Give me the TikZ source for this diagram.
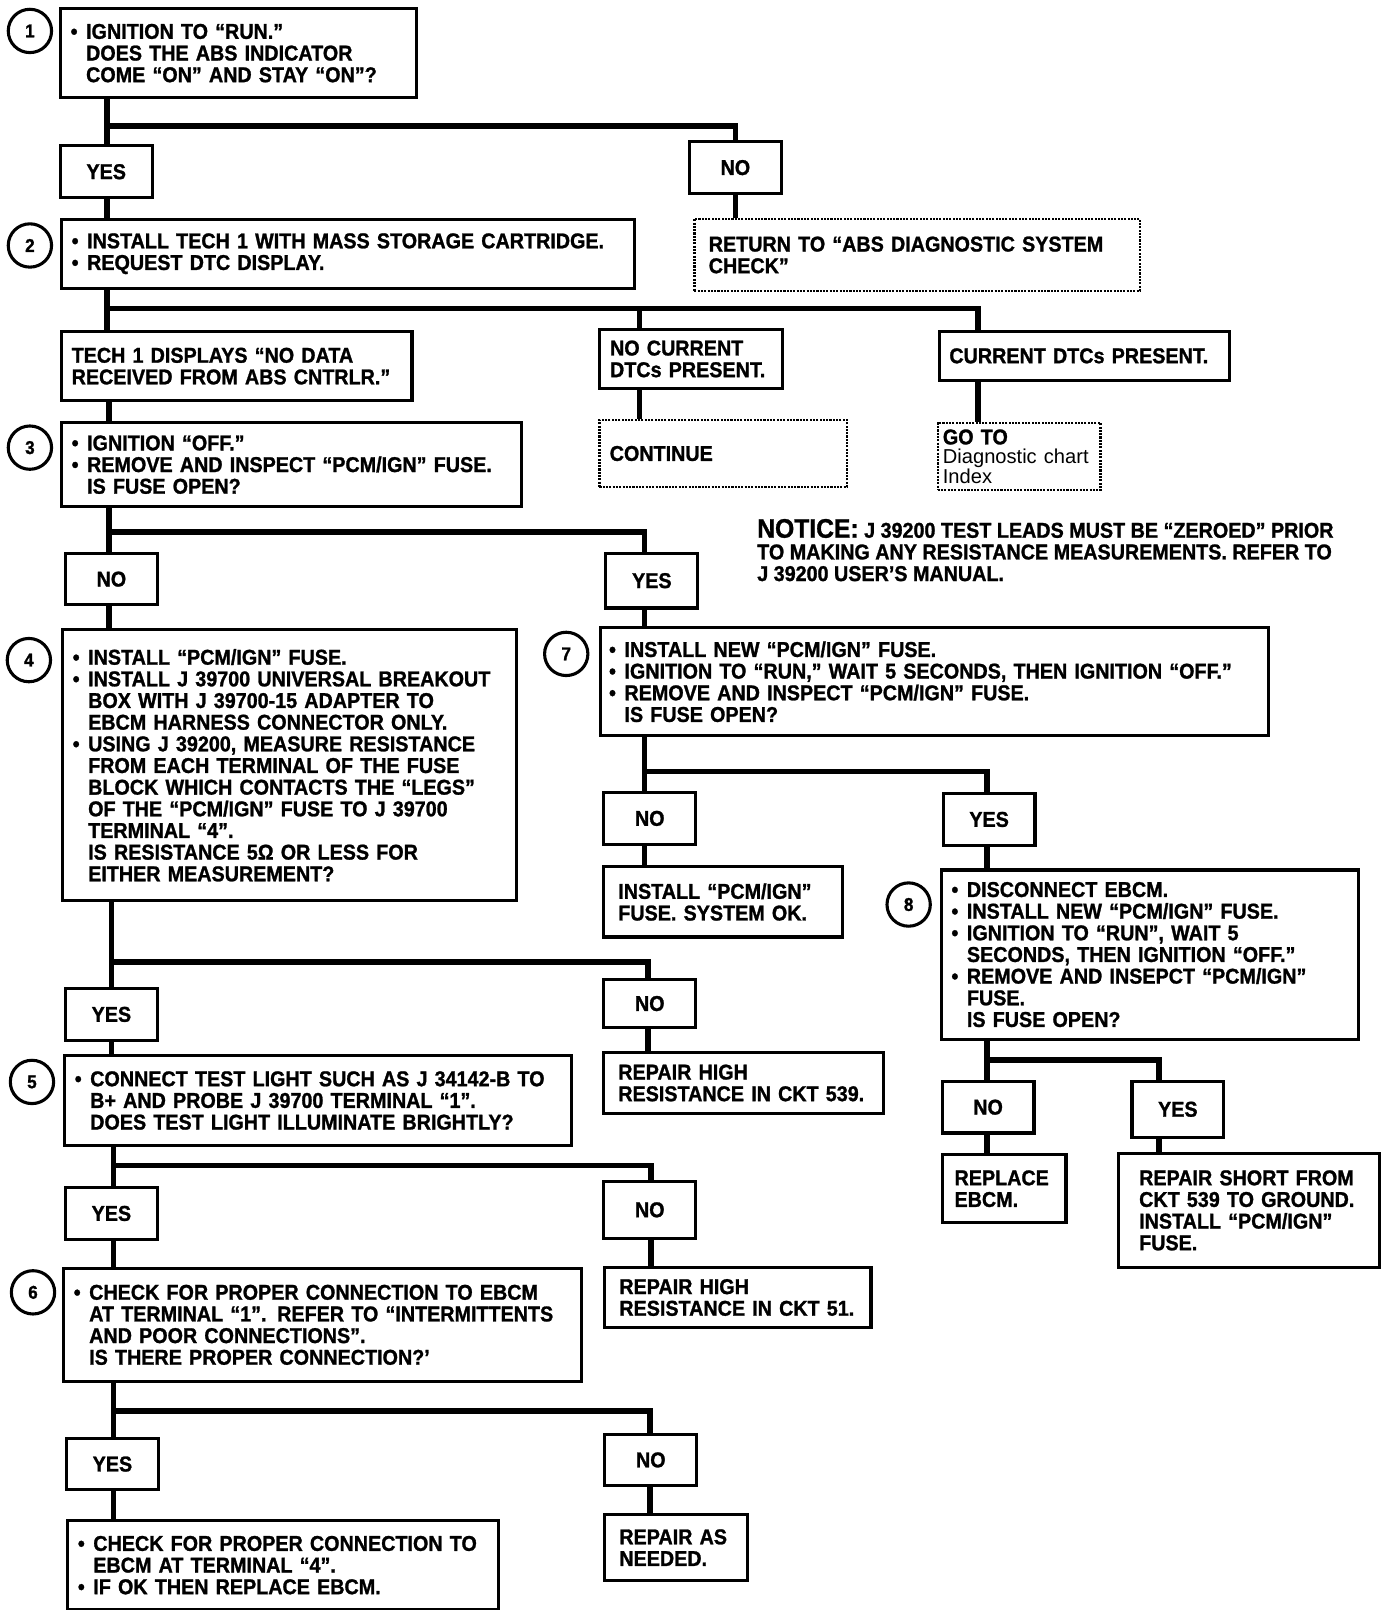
\documentclass[tikz,border=0pt]{standalone}
\usepackage{fontspec}
\setmainfont{Liberation Sans}[BoldFeatures={FakeStretch=0.92,FakeBold=1.2}]
\usetikzlibrary{calc}

\begin{document}
\begin{tikzpicture}[x=1pt,y=-1pt,
	stepbox/.style={draw,line width=3pt,anchor=north west,align=left,inner xsep=10pt,inner ysep=3pt,font=\bfseries\fontsize{20.8}{21}\selectfont},
	endbox/.style={stepbox,line width=2.4pt,dash pattern=on 2pt off 1.2pt},
	ans/.style={draw,line width=3pt,anchor=north west,minimum width=89pt,minimum height=50pt,font=\bfseries\fontsize{20.8}{21}\selectfont},
	num/.style={draw,circle,line width=3pt,minimum size=42pt,inner sep=0pt,font=\bfseries\fontsize{18}{18}\selectfont},
	link/.style={line width=5.5pt}]
		\newcommand{\bulit}{\makebox[15pt][l]{\textbullet}}
		\newcommand{\indt}{\hspace*{15pt}}
		\useasboundingbox (0,0) rectangle (1350,1561);
		% step numbers
		\node[num] (c1) at (29,30) {1};
		\node[num] (c2) at (29,238) {2};
		\node[num] (c3) at (29,434) {3};
		\node[num] (c4) at (28,640) {4};
		\node[num] (c5) at (31,1049) {5};
		\node[num] (c6) at (32,1253) {6};
		\node[num] (c7) at (549,634) {7};
		\node[num] (c8) at (881,877) {8};
		% boxes
		\node[stepbox,text width=325pt,minimum height=86pt] (b1) at (57,7) {\bulit IGNITION TO “RUN.”\\ \indt DOES THE ABS INDICATOR\\ \indt COME “ON” AND STAY “ON”?};
		\node[stepbox,text width=536pt,minimum height=67pt] (b2) at (58,211) {\bulit INSTALL TECH 1 WITH MASS STORAGE CARTRIDGE.\\ \bulit REQUEST DTC DISPLAY.};
		\node[endbox,text width=404pt,minimum height=70pt,inner xsep=14pt] (ret) at (672,211) {RETURN TO “ABS DIAGNOSTIC SYSTEM\\CHECK”};
		\node[stepbox,text width=320pt,minimum height=67pt] (tech) at (58,320) {TECH 1 DISPLAYS “NO DATA\\RECEIVED FROM ABS CNTRLR.”};
		\node[stepbox,text width=157pt,minimum height=57pt] (nocur) at (580,318) {NO CURRENT\\DTCs PRESENT.};
		\node[stepbox,text width=262pt,minimum height=47pt] (cur) at (909,320) {CURRENT DTCs PRESENT.};
		\node[endbox,text width=220pt,minimum height=65pt] (cont) at (580,406) {CONTINUE};
		\node[endbox,text width=148pt,minimum height=65pt,inner xsep=5pt,font=\bfseries\fontsize{20.8}{19}\selectfont] (goto) at (908,409) {GO TO\\{\mdseries\fontsize{19.5}{19}\selectfont Diagnostic chart}\\{\mdseries\fontsize{19.5}{19}\selectfont Index}};
		\node[stepbox,text width=426pt,minimum height=82pt] (b3) at (58,408) {\bulit IGNITION “OFF.”\\ \bulit REMOVE AND INSPECT “PCM/IGN” FUSE.\\ \indt IS FUSE OPEN?};
		\node[anchor=north west,align=left,inner sep=0pt,font=\bfseries\fontsize{20.8}{21}\selectfont] (notice) at (734,503) {{\fontsize{26}{21}\selectfont NOTICE:} J 39200 TEST LEADS MUST BE “ZEROED” PRIOR\\TO MAKING ANY RESISTANCE MEASUREMENTS. REFER TO\\J 39200 USER’S MANUAL.};
		\node[stepbox,text width=420pt,minimum height=263pt] (b4) at (59,609) {\bulit INSTALL “PCM/IGN” FUSE.\\ \bulit INSTALL J 39700 UNIVERSAL BREAKOUT\\ \indt BOX WITH J 39700-15 ADAPTER TO\\ \indt EBCM HARNESS CONNECTOR ONLY.\\ \bulit USING J 39200, MEASURE RESISTANCE\\ \indt FROM EACH TERMINAL OF THE FUSE\\ \indt BLOCK WHICH CONTACTS THE “LEGS”\\ \indt OF THE “PCM/IGN” FUSE TO J 39700\\ \indt TERMINAL “4”.\\ \indt IS RESISTANCE 5Ω OR LESS FOR\\ \indt EITHER MEASUREMENT?};
		\node[stepbox,text width=631pt,minimum height=105pt,inner xsep=8pt] (b7) at (581,607) {\bulit INSTALL NEW “PCM/IGN” FUSE.\\ \bulit IGNITION TO “RUN,” WAIT 5 SECONDS, THEN IGNITION “OFF.”\\ \bulit REMOVE AND INSPECT “PCM/IGN” FUSE.\\ \indt IS FUSE OPEN?};
		\node[stepbox,text width=203pt,minimum height=68pt,inner xsep=14pt] (inst) at (584,839) {INSTALL “PCM/IGN”\\FUSE. SYSTEM OK.};
		\node[stepbox,text width=385pt,minimum height=164pt] (b8) at (911,842) {\bulit DISCONNECT EBCM.\\ \bulit INSTALL NEW “PCM/IGN” FUSE.\\ \bulit IGNITION TO “RUN”, WAIT 5\\ \indt SECONDS, THEN IGNITION “OFF.”\\ \bulit REMOVE AND INSEPCT “PCM/IGN”\\ \indt FUSE.\\ \indt IS FUSE OPEN?};
		\node[stepbox,text width=243pt,minimum height=59pt,inner xsep=14pt] (rep539) at (584,1019) {REPAIR HIGH\\RESISTANCE IN CKT 539.};
		\node[stepbox,text width=472pt,minimum height=87pt] (b5) at (61,1022) {\bulit CONNECT TEST LIGHT SUCH AS J 34142-B TO\\ \indt B+ AND PROBE J 39700 TERMINAL “1”.\\ \indt DOES TEST LIGHT ILLUMINATE BRIGHTLY?};
		\node[stepbox,text width=96pt,minimum height=66pt,inner xsep=12pt] (repl) at (912,1118) {REPLACE\\EBCM.};
		\node[stepbox,text width=213pt,minimum height=110pt,inner xsep=20pt] (short) at (1083,1117) {REPAIR SHORT FROM\\CKT 539 TO GROUND.\\INSTALL “PCM/IGN”\\FUSE.};
		\node[stepbox,text width=230pt,minimum height=59pt,inner xsep=14pt] (rep51) at (585,1227) {REPAIR HIGH\\RESISTANCE IN CKT 51.};
		\node[stepbox,text width=482pt,minimum height=110pt] (b6) at (60,1228) {\bulit CHECK FOR PROPER CONNECTION TO EBCM\\ \indt AT TERMINAL “1”. REFER TO “INTERMITTENTS\\ \indt AND POOR CONNECTIONS”.\\ \indt IS THERE PROPER CONNECTION?’};
		\node[stepbox,text width=398pt,minimum height=86pt] (chk) at (64,1473) {\bulit CHECK FOR PROPER CONNECTION TO\\ \indt EBCM AT TERMINAL “4”.\\ \bulit IF OK THEN REPLACE EBCM.};
		\node[stepbox,text width=110pt,minimum height=64pt,inner xsep=14pt] (repas) at (585,1467) {REPAIR AS\\NEEDED.};
		% answers
		\node[ans] (yes1) at (57,140) {YES};
		\node[ans] (no1) at (667,136) {NO};
		\node[ans] (no3) at (62,535) {NO};
		\node[ans,minimum height=53pt] (yes3) at (586,535) {YES};
		\node[ans] (no7) at (584,767) {NO};
		\node[ans] (yes7) at (913,768) {YES};
		\node[ans] (yes4) at (62,957) {YES};
		\node[ans,minimum height=47pt] (no4) at (584,948) {NO};
		\node[ans] (no8) at (912,1047) {NO};
		\node[ans,minimum height=54pt] (yes8) at (1096,1047) {YES};
		\node[ans] (yes5) at (62,1150) {YES};
		\node[ans,minimum height=55pt] (no5) at (584,1144) {NO};
		\node[ans] (yes6) at (63,1393) {YES};
		\node[ans] (no6) at (585,1389) {NO};
		% junctions
		\coordinate (j1) at (104,122);
		\coordinate (j2) at (104,299); \coordinate (j2b) at (620,299); \coordinate (j2c) at (948,299);
		\coordinate (j3) at (106,516); \coordinate (j3b) at (625,516);
		\coordinate (j7) at (625,748); \coordinate (j7b) at (957,748);
		\coordinate (j4) at (108,933); \coordinate (j4b) at (628,933);
		\coordinate (j8) at (957,1028); \coordinate (j8b) at (1124,1028);
		\coordinate (j5) at (110,1130); \coordinate (j5b) at (631,1130);
		\coordinate (j6) at (110,1368); \coordinate (j6b) at (630,1368);
		% connectors
		\draw[link] (b1.south -| j1) -- (j1 |- yes1.north);
		\draw[link] (j1) -| (no1.north);
		\draw[link] (yes1.south -| j1) -- (j1 |- b2.north);
		\draw[link] (no1.south) -- (no1.south |- ret.north);
		\draw[link] (b2.south -| j2) -- (j2 |- tech.north);
		\draw[link] (j2) -- (j2c) -- (j2c |- cur.north);
		\draw[link] (j2b) -- (j2b |- nocur.north);
		\draw[link] (nocur.south -| j2b) -- (j2b |- cont.north);
		\draw[link] (cur.south -| j2c) -- (j2c |- goto.north);
		\draw[link] (tech.south -| j3) -- (j3 |- b3.north);
		\draw[link] (b3.south -| j3) -- (j3 |- no3.north);
		\draw[link] (j3) -- (j3b) -- (j3b |- yes3.north);
		\draw[link] (no3.south -| j3) -- (j3 |- b4.north);
		\draw[link] (yes3.south -| j3b) -- (j3b |- b7.north);
		\draw[link] (b7.south -| j7) -- (j7 |- no7.north);
		\draw[link] (j7) -- (j7b) -- (j7b |- yes7.north);
		\draw[link] (no7.south -| j7) -- (j7 |- inst.north);
		\draw[link] (yes7.south -| j7b) -- (j7b |- b8.north);
		\draw[link] (b8.south -| j8) -- (j8 |- no8.north);
		\draw[link] (j8) -- (j8b) -- (j8b |- yes8.north);
		\draw[link] (no8.south -| j8) -- (j8 |- repl.north);
		\draw[link] (yes8.south -| j8b) -- (j8b |- short.north);
		\draw[link] (b4.south -| j4) -- (j4 |- yes4.north);
		\draw[link] (j4) -- (j4b) -- (j4b |- no4.north);
		\draw[link] (yes4.south -| j4) -- (j4 |- b5.north);
		\draw[link] (no4.south -| j4b) -- (j4b |- rep539.north);
		\draw[link] (b5.south -| j5) -- (j5 |- yes5.north);
		\draw[link] (j5) -- (j5b) -- (j5b |- no5.north);
		\draw[link] (yes5.south -| j5) -- (j5 |- b6.north);
		\draw[link] (no5.south -| j5b) -- (j5b |- rep51.north);
		\draw[link] (b6.south -| j6) -- (j6 |- yes6.north);
		\draw[link] (j6) -- (j6b) -- (j6b |- no6.north);
		\draw[link] (yes6.south -| j6) -- (j6 |- chk.north);
		\draw[link] (no6.south -| j6b) -- (j6b |- repas.north);
	\end{tikzpicture}
\end{document}
